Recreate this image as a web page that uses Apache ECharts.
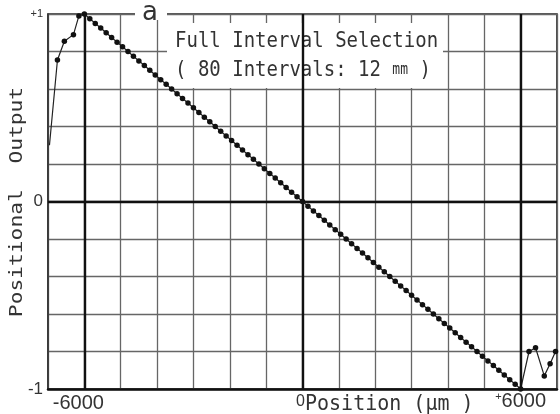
<!DOCTYPE html>
<html>
<head>
<meta charset="utf-8">
<script src="https://cdn.jsdelivr.net/npm/echarts@6/dist/echarts.min.js"></script>
<style>html,body{margin:0;padding:0;background:#fff}#c{width:560px;height:414px}</style>
</head>
<body>
<div id="c"></div>
<script>
// Position (µm) and positional output
const leftPos = [-6960, -6740, -6550, -6300, -6150];
const leftOut = [0.30, 0.755, 0.855, 0.89, 0.99];
const diagPos = [-6000, -5850, -5700, -5550, -5400, -5250, -5100, -4950, -4800, -4650,
  -4500, -4350, -4200, -4050, -3900, -3750, -3600, -3450, -3300, -3150,
  -3000, -2850, -2700, -2550, -2400, -2250, -2100, -1950, -1800, -1650,
  -1500, -1350, -1200, -1050, -900, -750, -600, -450, -300, -150,
  0, 150, 300, 450, 600, 750, 900, 1050, 1200, 1350,
  1500, 1650, 1800, 1950, 2100, 2250, 2400, 2550, 2700, 2850,
  3000, 3150, 3300, 3450, 3600, 3750, 3900, 4050, 4200, 4350,
  4500, 4650, 4800, 4950, 5100, 5250, 5400, 5550, 5700, 5850, 6000];
const diagOut = [1.000, 0.975, 0.950, 0.925, 0.900, 0.875, 0.850, 0.825, 0.800, 0.775,
  0.750, 0.725, 0.700, 0.675, 0.650, 0.625, 0.600, 0.575, 0.550, 0.525,
  0.500, 0.475, 0.450, 0.425, 0.400, 0.375, 0.350, 0.325, 0.300, 0.275,
  0.250, 0.225, 0.200, 0.175, 0.150, 0.125, 0.100, 0.075, 0.050, 0.025,
  0.000, -0.025, -0.050, -0.075, -0.100, -0.125, -0.150, -0.175, -0.200, -0.225,
  -0.250, -0.275, -0.300, -0.325, -0.350, -0.375, -0.400, -0.425, -0.450, -0.475,
  -0.500, -0.525, -0.550, -0.575, -0.600, -0.625, -0.650, -0.675, -0.700, -0.725,
  -0.750, -0.775, -0.800, -0.825, -0.850, -0.875, -0.900, -0.925, -0.950, -0.975, -1.000];
const rightPos = [6230, 6410, 6650, 6810, 6960];
const rightOut = [-0.80, -0.78, -0.93, -0.865, -0.80];

const xTickValues = [-6000, 0, 6000];
const xTickLabels = ['-6000', '0', '+6000'];
const yTickValues = [-1, 0, 1];
const yTickLabels = ['-1', '0', '+1'];
const heavyX = [-6000, 0, 6000];
const heavyY = [0];

const titleLine1 = 'Full Interval Selection';
const titleLine2a = '( 80 Intervals: 12 ';
const titleUnit = 'mm';
const titleLine2b = ' )';
const panelLetter = 'a';
const xName = 'Position (μm )';
const yName = 'Positional  Output';

const pos = leftPos.concat(diagPos, rightPos);
const out = leftOut.concat(diagOut, rightOut);
const data = pos.map((p, i) => [p, out[i]]);

const chart = echarts.init(document.getElementById('c'), null, {renderer: 'canvas'});
const mono = '"DejaVu Sans Mono", monospace';
const sans = '"Liberation Sans", Arial, sans-serif';

function xLab(v) {
  const i = xTickValues.findIndex(t => Math.abs(t - v) < 1e-6);
  if (i < 0) return '';
  const s = xTickLabels[i];
  if (s[0] === '+') return '{p|+}{q|' + s.slice(1) + '}';
  if (s === '0') return '{z|' + s + '}';
  return '{n|' + s + '}';
}
function yLab(v) {
  const i = yTickValues.findIndex(t => Math.abs(t - v) < 1e-6);
  if (i < 0) return '';
  const s = yTickLabels[i];
  if (s[0] === '+') return '{s|' + s + '}';
  return '{n|' + s + '}';
}

chart.setOption({
  animation: false,
  backgroundColor: '#fff',
  grid: {left: 48, right: 3, top: 14, bottom: 25, show: true, borderColor: '#222', borderWidth: 1.6, backgroundColor: 'transparent'},
  xAxis: {
    type: 'value', min: -7000, max: 7000, interval: 1000,
    axisLine: {show: true, onZero: false, lineStyle: {color: '#111', width: 2.5}},
    axisTick: {show: false},
    splitLine: {show: true, lineStyle: {color: '#666', width: 1.3}},
    axisLabel: {
      show: true, margin: 2, formatter: xLab, color: '#333',
      rich: {
        n: {fontFamily: sans, fontSize: 20, color: '#333', padding: [2, 12, 0, 0]},
        q: {fontFamily: sans, fontSize: 20, color: '#333', padding: [0, 0, 0, 0]},
        z: {fontFamily: sans, fontSize: 16, color: '#333', padding: [3, 4, 0, 0]},
        p: {fontFamily: sans, fontSize: 11, color: '#333', padding: [0, 0, 8, 0]}
      }
    }
  },
  yAxis: {
    type: 'value', min: -1, max: 1, interval: 0.2,
    axisLine: {show: true, onZero: false, lineStyle: {color: '#333', width: 1.5}},
    axisTick: {show: false},
    splitLine: {show: true, lineStyle: {color: '#666', width: 1.3}},
    axisLabel: {
      show: true, margin: 5, formatter: yLab, color: '#333',
      rich: {
        n: {fontFamily: sans, fontSize: 17, color: '#333'},
        s: {fontFamily: sans, fontSize: 11, color: '#333'}
      }
    }
  },
  series: [{
    type: 'line',
    data: data,
    symbol: 'circle',
    symbolSize: (v, p) => (p.dataIndex === 0 ? 0 : 5.5),
    itemStyle: {color: '#111'},
    lineStyle: {color: '#222', width: 1.2},
    z: 3,
    markLine: {
      silent: true, symbol: 'none', label: {show: false},
      lineStyle: {color: '#111', width: 2.4, type: 'solid'},
      data: heavyX.map(v => ({xAxis: v})).concat(heavyY.map(v => ({yAxis: v})))
    }
  }],
  graphic: [
    {type: 'rect', z: 1, shape: {x: 135, y: 6, width: 32, height: 14}, style: {fill: '#fff'}},
    {type: 'text', z: 5, x: 150, y: 13, style: {text: panelLetter, font: '26px "DejaVu Sans", sans-serif', fill: '#333', align: 'center', verticalAlign: 'middle', textAlign: 'center', textVerticalAlign: 'middle'}},
    {type: 'rect', z: 1, shape: {x: 167, y: 23, width: 276, height: 65}, style: {fill: '#fff'}},
    {type: 'text', z: 5, x: 175, y: 41, scaleY: 1.15, style: {text: titleLine1, font: '19px ' + mono, fill: '#333', align: 'left', verticalAlign: 'middle', textAlign: 'left', textVerticalAlign: 'middle'}},
    {type: 'text', z: 5, x: 175, y: 70, scaleY: 1.15, style: {
      text: '{a|' + titleLine2a + '}{u|' + titleUnit + '}{a|' + titleLine2b + '}',
      rich: {a: {font: '19px ' + mono, fill: '#333', color: '#333'}, u: {font: '13px ' + mono, fill: '#333', color: '#333'}},
      fill: '#333', align: 'left', verticalAlign: 'middle', textAlign: 'left', textVerticalAlign: 'middle'}},
    {type: 'text', z: 5, x: 17.5, y: 202, rotation: Math.PI / 2, scaleX: 1.25, style: {text: yName, font: '17px ' + mono, fill: '#333', align: 'center', verticalAlign: 'middle', textAlign: 'center', textVerticalAlign: 'middle'}},
    {type: 'text', z: 5, x: 305, y: 405, scaleY: 1.05, style: {text: xName, font: '20px ' + mono, fill: '#333', align: 'left', verticalAlign: 'middle', textAlign: 'left', textVerticalAlign: 'middle'}}
  ]
});
</script>
</body>
</html>
